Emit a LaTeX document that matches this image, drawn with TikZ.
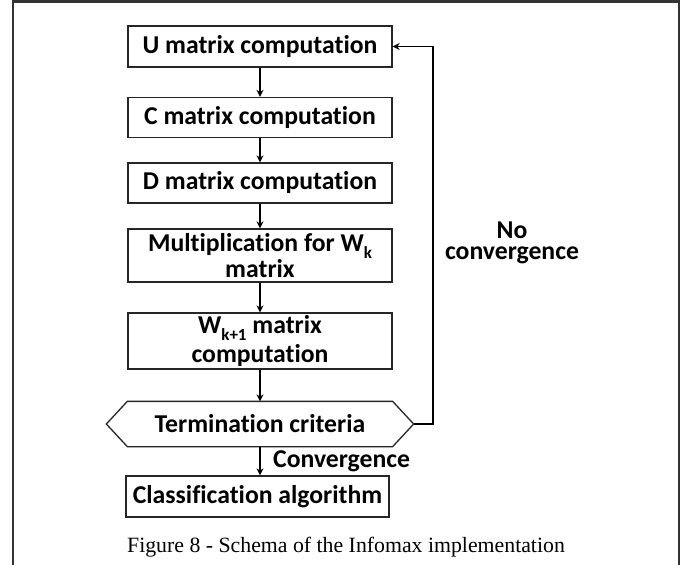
\documentclass[tikz,border=0pt]{standalone}
\usepackage{fontspec}
\setmainfont{Liberation Serif}
\newfontfamily\boxfont{Carlito}[Ligatures=NoCommon]
\usetikzlibrary{arrows.meta}
\newcommand{\sbs}[1]{\raisebox{-0.28em}{\fontsize{17}{17}\selectfont #1}}
\tikzset{
  stepbox/.style={draw=black!85, line width=1.3pt, minimum width=264pt, inner sep=0pt, align=center,
     font=\boxfont\bfseries\fontsize{25.7}{23}\selectfont},
  conn/.style={draw=black, line width=1.2pt, -{Stealth[length=7pt,width=7pt]}},
  lbl/.style={inner sep=0pt, font=\boxfont\bfseries\fontsize{25.7}{21}\selectfont, align=center}
}
\begin{document}
\begin{tikzpicture}[x=1pt,y=-1pt]
\useasboundingbox (0,0) rectangle (699,565);
\draw[line width=2.5pt, draw=black!80] (13,570) -- (13,1.5) -- (679,1.5) -- (679,570);

\node[stepbox, minimum height=41pt] (U) at (260,46.5) {U matrix computation};
\node[stepbox, minimum height=40pt] (C) at (260,117.5) {C matrix computation};
\node[stepbox, minimum height=40pt] (D) at (260,183) {D matrix computation};
\node[stepbox, minimum height=53pt] (M) at (260,255.5) {Multiplication for W\sbs{k}\\matrix};
\node[stepbox, minimum height=56pt] (W) at (260,341) {W\sbs{k+1} matrix\\[3pt]computation};
\node[stepbox, draw=none, minimum height=44pt] (T) at (260,424) {Termination criteria};
\coordinate (Tr) at ([xshift=21pt]T.east);
\coordinate (Tl) at ([xshift=-21pt]T.west);
\draw[draw=black!85, line width=1.3pt] (T.north west) -- (T.north east) -- (Tr) -- (T.south east) -- (T.south west) -- (Tl) -- cycle;
\node[stepbox, minimum width=263pt, minimum height=41pt] (Cl) at (257.5,496.5) {Classification algorithm};

\draw[conn] (U) -- (C);
\draw[conn] (C) -- (D);
\draw[conn] (D) -- (M);
\draw[conn] (M) -- (W);
\draw[conn] (W) -- (T);
\draw[conn] (T.south) -- (T.south |- Cl.north);
\coordinate (fb) at (433,424);
\draw[conn] (Tr) -- (fb) |- (U.east);

\node[lbl, anchor=base west] (conv) at (273,467) {Convergence};
\node[lbl] (noconv) at (512,243) {No\\convergence};
\node[inner sep=0pt, anchor=base, font=\fontsize{21.8}{24}\selectfont] (cap) at (346,552) {Figure 8 - Schema of the Infomax implementation};
\end{tikzpicture}
\end{document}
